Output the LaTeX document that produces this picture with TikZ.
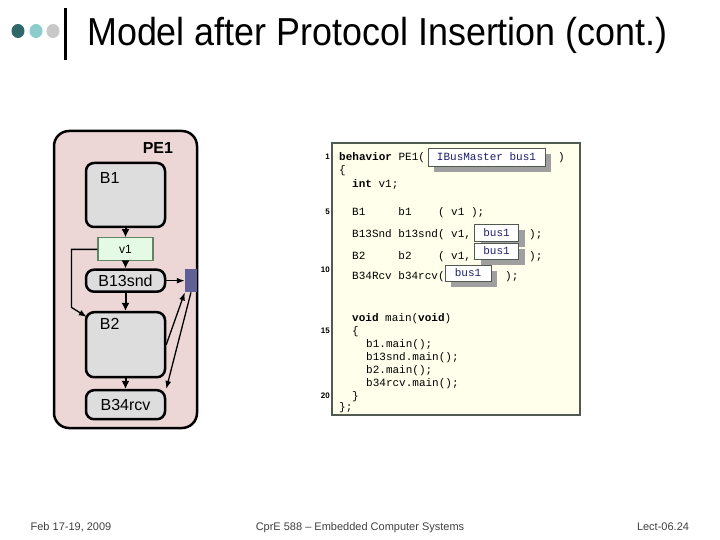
\documentclass[tikz,border=0pt]{standalone}
\usepackage{graphicx}
\usepackage{fontspec}
\setmainfont{Liberation Sans}
\setmonofont{Liberation Mono}
\usetikzlibrary{positioning,arrows.meta,calc,shadows}

\definecolor{pepink}{RGB}{236,214,214}
\definecolor{blkgray}{RGB}{221,221,221}
\definecolor{varfill}{RGB}{228,250,228}
\definecolor{varline}{RGB}{100,130,100}
\definecolor{busblue}{RGB}{96,96,150}
\definecolor{codebg}{RGB}{255,255,236}
\definecolor{codeline}{RGB}{80,90,80}
\definecolor{ifcol}{RGB}{30,30,110}
\definecolor{dotdark}{RGB}{46,104,104}
\definecolor{dotlight}{RGB}{140,204,204}
\definecolor{dotgray}{RGB}{200,200,200}

\begin{document}
\begin{tikzpicture}[
    x=1pt, y=-1pt,
    pe/.style={draw, line width=2.5pt, fill=pepink, rounded corners=15pt, minimum width=143pt, minimum height=297pt},
    blk/.style={draw, line width=2.5pt, fill=blkgray, rounded corners=8pt, minimum width=79pt, font=\fontsize{16}{16}\selectfont},
    var/.style={draw=varline, line width=1.2pt, fill=varfill, minimum width=55pt, minimum height=23pt, font=\fontsize{12}{12}\selectfont},
    bus/.style={fill=busblue, minimum width=12pt, minimum height=23pt, inner sep=0pt},
    lbl/.style={inner sep=0pt, font=\fontsize{16}{16}\selectfont},
    arr/.style={-{Latex[length=8pt,width=8pt]}, line width=2pt},
    thinarr/.style={-{Latex[length=8pt,width=6pt]}, line width=1.3pt},
    codebox/.style={draw=codeline, line width=1.5pt, fill=codebg, minimum width=248pt, minimum height=272pt},
    src/.style={anchor=base west, inner sep=0pt, font=\fontsize{11}{11}\ttfamily},
    lnum/.style={anchor=east, inner sep=0pt, font=\fontsize{8}{8}\bfseries},
    port/.style={draw=codeline, line width=0.8pt, fill=white, text=ifcol, inner sep=0pt, minimum height=16pt,
        font=\fontsize{11}{11}\ttfamily, general shadow={fill=gray!75, shadow xshift=6pt, shadow yshift=-6pt}},
    foot/.style={anchor=base, text=black!75, inner sep=0pt, font=\fontsize{11}{11}\selectfont}
]
\useasboundingbox (0,0) rectangle (720,540);
\fill[white] (0,0) rectangle (720,540);

% title bar
\fill[dotdark] (18,31) ellipse [x radius=6.5pt, y radius=7pt];
\fill[dotlight] (36,31) ellipse [x radius=6.5pt, y radius=7pt];
\fill[dotgray] (53,31) ellipse [x radius=6.5pt, y radius=7pt];
\draw[line width=3pt] (65.5,8) -- (65.5,60);
\node[anchor=base west, inner sep=0pt, font=\fontsize{39}{39}\selectfont] (title) at (87,46)
    {\scalebox{0.92}[1]{Model after Protocol Insertion (cont.)}};

% PE1 with its behaviors
\node[pe] (pe) at (125.5,279.5) {};
\node[inner sep=0pt, font=\fontsize{16}{16}\bfseries, below left=13pt and 25pt of pe.north east] (pelbl) {PE1};

\node[blk, minimum height=64pt] (B1) at (125.5,195) {};
\node[lbl, below right=11pt and 15pt of B1.north west] (B1lbl) {B1};
\node[var, below=9pt of B1] (v1) {v1};
\node[blk, minimum height=22pt, below=7pt of v1] (B13snd) {B13snd};
\node[blk, minimum height=65pt, below=18pt of B13snd] (B2) {};
\node[lbl, below right=7pt and 15pt of B2.north west] (B2lbl) {B2};
\node[blk, minimum height=29pt, below=10.5pt of B2] (B34rcv) {B34rcv};
\node[bus, right=18.5pt of B13snd] (bus) {};

\draw[arr] (B1) -- (v1);
\draw[arr] (v1) -- (B13snd);
\draw[arr] (B13snd) -- (B2);
\draw[arr] (B2) -- (B34rcv);
\draw[thinarr] (v1.west) -- ++(-26,0) -- ++(0,58) -- ($(B2.north west)+(2,6)$);
\draw[thinarr] (B13snd) -- (bus);
\draw[thinarr] (B2.east) -- (bus.south west);
\draw[thinarr] (bus.south) -- (B34rcv.north east);

% SpecC code
\node[codebox] (code) at (456,279) {};

\node[lnum] (n1) at (330,157) {1};
\node[lnum] (n5) at (330,212) {5};
\node[lnum] (n10) at (330,270) {10};
\node[lnum] (n15) at (330,331) {15};
\node[lnum] (n20) at (330,396) {20};

\node[src] (c1) at (339,161) {\textbf{behavior} PE1(};
\node[src] (c2) at (339,174) {\{};
\node[src] (c3) at (352,188) {\textbf{int} v1;};
\node[src] (c5) at (352,215) {B1\ \ \ \ \ b1\ \ \ \ ( v1 );};
\node[src] (c6) at (352,237) {B13Snd b13snd( v1,};
\node[src] (c7) at (352,259) {B2\ \ \ \ \ b2\ \ \ \ ( v1,};
\node[src] (c8) at (352,279) {B34Rcv b34rcv(};
\node[src] (c1e) at (558,161) {)};
\node[src] (c6e) at (529,237) {);};
\node[src] (c7e) at (529,259) {);};
\node[src] (c8e) at (505,279) {);};

\node[src] (m1) at (352,321) {\textbf{void} main(\textbf{void})};
\node[src] (m2) at (352,334) {\{};
\node[src] (m3) at (366,347) {b1.main();};
\node[src] (m4) at (366,360) {b13snd.main();};
\node[src] (m5) at (366,373) {b2.main();};
\node[src] (m6) at (366,386) {b34rcv.main();};
\node[src] (m7) at (352,399) {\}};
\node[src] (m8) at (339,410) {\};};

\node[port, minimum width=117pt, minimum height=18pt] (p1) at (486.5,157) {IBusMaster bus1};
\node[port, minimum width=44pt, minimum height=17pt] (p2) at (496.5,232.5) {bus1};
\node[port, minimum width=44pt] (p3) at (496.5,251) {bus1};
\node[port, minimum width=46pt] (p4) at (468,273) {bus1};

% footer
\node[foot] (date) at (71,530) {Feb 17-19, 2009};
\node[foot] (course) at (360,530) {CprE 588 \textendash\ Embedded Computer Systems};
\node[foot] (slide) at (663,530) {Lect-06.24};
\end{tikzpicture}
\end{document}
